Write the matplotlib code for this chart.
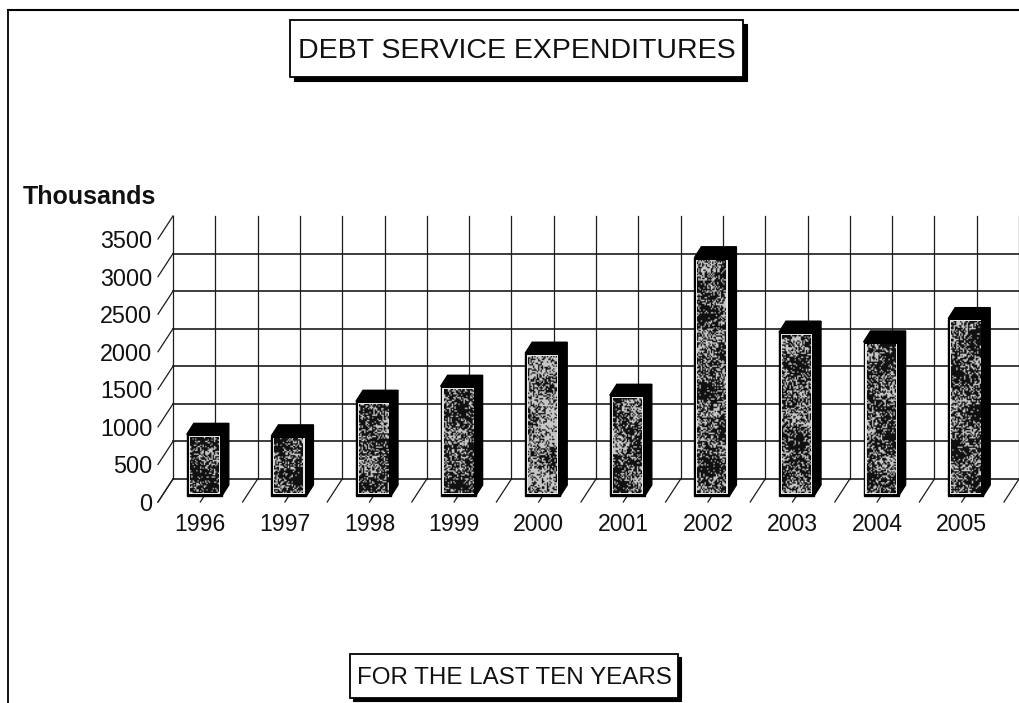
import matplotlib
matplotlib.use("Agg")
import matplotlib.pyplot as plt
import numpy as np
from matplotlib.patches import Rectangle

plt.rcParams["font.family"] = ["Liberation Sans", "DejaVu Sans"]

years = ["1996", "1997", "1998", "1999", "2000", "2001", "2002", "2003", "2004", "2005"]
expenditures = [820, 800, 1260, 1460, 1900, 1340, 3170, 2180, 2050, 2360]
value_ticks = [0, 500, 1000, 1500, 2000, 2500, 3000, 3500]
face_lightness = [0.27, 0.29, 0.37, 0.35, 0.58, 0.35, 0.35, 0.37, 0.33, 0.33]
title = "DEBT SERVICE EXPENDITURES"
subtitle = "FOR THE LAST TEN YEARS"
unit_label = "Thousands"

W, H = 1020, 703
fig = plt.figure(figsize=(W / 100, H / 100), dpi=100, facecolor="white")

# Axes rectangle is the front edge of the pseudo-3D floor, in pixels
LEFT, RIGHT, BOTTOM, TOP = 158, 1004, 502, 239
ax = fig.add_axes([LEFT / W, 1 - BOTTOM / H, (RIGHT - LEFT) / W, (BOTTOM - TOP) / H])
ax.set_xlim(-0.5, 9.5)
ax.set_ylim(0, 3500)
ax.set_autoscale_on(False)
for spine in ax.spines.values():
    spine.set_visible(False)
ax.patch.set_alpha(0)

px_x = 10 / (RIGHT - LEFT)          # category units per pixel
px_y = 3500 / (BOTTOM - TOP)        # value units per pixel
wall_dx, wall_dy = 15 * px_x, 23 * px_y

ax.set_xticks(range(len(years)), years)
ax.set_yticks(value_ticks, [str(v) for v in value_ticks])
ax.tick_params(axis="both", length=0, colors="#111111")
ax.tick_params(axis="x", pad=8, labelsize=16.6)
ax.tick_params(axis="y", pad=4, labelsize=16.8)

# Back wall grid
ink = "#1c1c1c"
wall_left = -0.5 + wall_dx
wall_right = 9.5 + wall_dx
wall_top = 3500 + wall_dy
for v in value_ticks:
    y = v + wall_dy
    if v < 3500:
        ax.plot([wall_left, wall_right], [y, y], color=ink, lw=1.2, clip_on=False, zorder=1)
    # slanted tick on the side wall
    ax.plot([-0.5, wall_left], [v, y], color=ink, lw=0.9, clip_on=False, zorder=1)

for i in range(21):
    x = -0.5 + i * 0.5
    ax.plot([x + wall_dx] * 2, [wall_dy, wall_top], color=ink, lw=0.9, clip_on=False, zorder=1)
    ax.plot([x, x + wall_dx], [0, wall_dy], color=ink, lw=0.9, clip_on=False, zorder=1)


def stipple(rows, cols, lightness, seed):
    """Speckled grey texture: fine hashed grain modulated by slow blotches."""
    yy, xx = np.mgrid[0:rows, 0:cols]
    grain = np.sin((xx + seed * 17.0) * 12.9898 + (yy + seed * 5.0) * 78.233) * 43758.5453
    grain = grain - np.floor(grain)
    blotch = np.sin(yy / 9.0 + seed * 1.7) * np.sin(xx / 6.0 + seed * 2.3) + 0.5 * np.sin(yy / 4.3 + seed)
    density = np.clip(lightness + 0.2 * blotch, 0.05, 0.95)
    return np.where(grain < density, 0.78, 0.07)


# Bars: black top and side, speckled front face with a pale inner border
bar_w = 35 * px_x
fx, fy = 4 * px_x, 6 * px_y
bx, by = 11 * px_x, 17 * px_y
rim_x, rim_y = 1.8 * px_x, 1.8 * px_y
inset_x, inset_y = 3.0 * px_x, 3.0 * px_y
for i, (v, tone) in enumerate(zip(expenditures, face_lightness)):
    x0 = i + fx - bar_w / 2
    x1 = i + fx + bar_w / 2
    base = fy
    top = fy + v
    dx, dy = bx - fx, by - fy
    ax.fill([x0, x0 + dx, x1 + dx, x1], [top, top + dy, top + dy, top],
            color="black", ec="black", lw=1.0, clip_on=False, zorder=3)
    ax.fill([x1, x1 + dx, x1 + dx, x1], [base, base + dy, top + dy, top],
            color="black", ec="black", lw=1.0, clip_on=False, zorder=3)
    ax.bar(i + fx, v, bar_w, bottom=base, color="black", edgecolor="black", lw=1.0,
           clip_on=False, zorder=4)
    ax.bar(i + fx, v - 2 * rim_y, bar_w - 2 * rim_x, bottom=base + rim_y,
           color="#e4e4e4", edgecolor="none", clip_on=False, zorder=5)
    rows = max(int(v / px_y / 1.4), 2)
    ax.imshow(stipple(rows, 23, tone, i + 1), cmap="gray", vmin=0, vmax=1,
              extent=(x0 + inset_x, x1 - inset_x, base + inset_y, top - inset_y),
              aspect="auto", interpolation="bilinear", origin="lower",
              clip_on=False, zorder=6)


def boxed_label(text, x0, y0, x1, y1, shadow, size):
    """Framed caption with a drop shadow, placed in figure pixels."""
    w, h = x1 - x0, y1 - y0
    fig.add_artist(Rectangle(((x0 + shadow) / W, 1 - (y1 + shadow) / H), w / W, h / H,
                             transform=fig.transFigure, fc="black", ec="black", lw=0.8, zorder=5))
    fig.add_artist(Rectangle((x0 / W, 1 - y1 / H), w / W, h / H,
                             transform=fig.transFigure, fc="white", ec="black", lw=1.3, zorder=6))
    fig.text((x0 + x1) / 2 / W, 1 - (y0 + y1) / 2 / H, text, ha="center", va="center_baseline",
             fontsize=size, color="#111111", zorder=7)


boxed_label(title, 290, 20, 743, 77, 4, 20.5)
boxed_label(subtitle, 350, 654, 678, 698, 3, 17.4)

fig.text(23 / W, 1 - 197 / H, unit_label, ha="left", va="center",
         fontsize=18, fontweight="bold", color="#111111")

# Page rule along the top and left edges
fig.add_artist(plt.Line2D([8 / W, 1], [1 - 10 / H, 1 - 10 / H], color="black", lw=1.5))
fig.add_artist(plt.Line2D([8 / W, 8 / W], [0, 1 - 10 / H], color="black", lw=1.3))

fig.savefig("out.png", dpi=100, facecolor="white")
